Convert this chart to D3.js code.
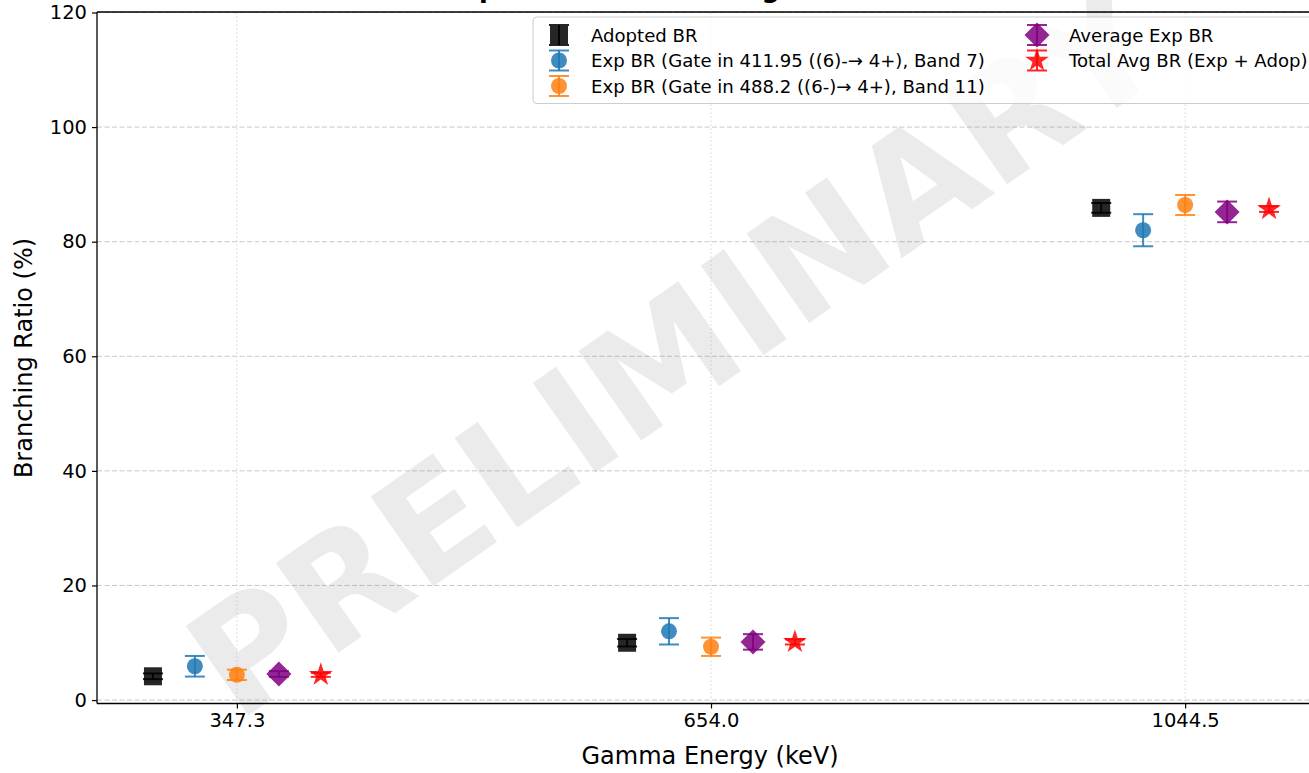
<!DOCTYPE html>
<html><head><meta charset="utf-8">
<script src="https://cdn.jsdelivr.net/npm/d3@7"></script>
<style>
html,body{margin:0;padding:0;background:#fff;}
svg{display:block;font-family:"DejaVu Sans",sans-serif;}
</style></head>
<body>
<svg id="chart" width="1309" height="773"></svg>
<script>
// ---- data ----
const categories = ["347.3", "654.0", "1044.5"];
const adopted    = [4.15, 10.0, 85.9];
const adoptedErr = [0.5, 0.65, 0.85];
const exp411     = [5.9, 12.0, 82.0];
const exp411Err  = [1.8, 2.3, 2.8];
const exp488     = [4.4, 9.3, 86.4];
const exp488Err  = [0.9, 1.6, 1.75];
const avgExp     = [4.55, 10.15, 85.2];
const avgExpErr  = [0.5, 1.35, 1.8];
const totalAvg   = [4.4, 10.15, 85.7];
const totalAvgErr= [0.35, 0.45, 0.5];
const yTicks = [0, 20, 40, 60, 80, 100, 120];
const seriesNames = [
  "Adopted BR",
  "Exp BR (Gate in 411.95 ((6)-\u2192 4+), Band 7)",
  "Exp BR (Gate in 488.2 ((6-)\u2192 4+), Band 11)",
  "Average Exp BR",
  "Total Avg BR (Exp + Adop)"
];
const titleText = "Comparison of Branching Ratios";
const xLabel = "Gamma Energy (keV)";
const yLabel = "Branching Ratio (%)";
const watermark = "PRELIMINARY";

// ---- styles ----
const series = [
  {vals: adopted,  err: adoptedErr,  color: "#000000", shape: "square",  off: -0.177},
  {vals: exp411,   err: exp411Err,   color: "#1f77b4", shape: "circle",  off: -0.0886},
  {vals: exp488,   err: exp488Err,   color: "#ff7f0e", shape: "circle",  off: 0},
  {vals: avgExp,   err: avgExpErr,   color: "#800080", shape: "diamond", off: 0.0886},
  {vals: totalAvg, err: totalAvgErr, color: "#ff0000", shape: "star",    off: 0.177}
];

const svg = d3.select("#chart");
const L = 97, R = 1325, T = 12.5, B = 703.5;
const x = d3.scaleLinear().domain([-0.295, 2.295]).range([L, R]);
const y = d3.scaleLinear().domain([-0.6, 120]).range([B, T]);

// grid
const grid = svg.append("g");
grid.selectAll("line.h").data(yTicks).join("line")
  .attr("x1",L).attr("x2",R).attr("y1",d=>y(d)).attr("y2",d=>y(d))
  .attr("stroke","#b0b0b0").attr("stroke-opacity",0.7).attr("stroke-width",1)
  .attr("stroke-dasharray","5,2.5");
grid.selectAll("line.v").data(categories.map((c,i)=>i)).join("line")
  .attr("y1",T).attr("y2",B).attr("x1",d=>x(d)).attr("x2",d=>x(d))
  .attr("stroke","#b0b0b0").attr("stroke-opacity",0.5).attr("stroke-width",1)
  .attr("stroke-dasharray","1.5,2.5");

// watermark
svg.append("text").text(watermark)
  .attr("transform","translate(705,396) rotate(-35)")
  .attr("text-anchor","middle")
  .attr("font-size",150).attr("font-weight","bold")
  .attr("fill","#808080").attr("fill-opacity",0.16);

// marker path builder
function markerPath(shape){
  if(shape==="square") return d3.symbol(d3.symbolSquare, 18*18)();
  if(shape==="circle") return d3.symbol(d3.symbolCircle, Math.PI*8*8)();
  if(shape==="star") return d3.symbol(d3.symbolStar, 175)();
  if(shape==="diamond") return "M0,-12.5L12.5,0L0,12.5L-12.5,0Z";
}

// points with error bars
const pts = svg.append("g");
series.forEach(s=>{
  const g = pts.append("g");
  s.vals.forEach((v,i)=>{
    const cx = x(i + s.off), e = s.err[i];
    const y1 = y(v - e), y2 = y(v + e);
    const gg = g.append("g");
    gg.append("line").attr("x1",cx).attr("x2",cx).attr("y1",y1).attr("y2",y2)
      .attr("stroke",s.color).attr("stroke-width",2).attr("stroke-opacity",0.85);
    [y1,y2].forEach(yy=>gg.append("line").attr("x1",cx-10).attr("x2",cx+10)
      .attr("y1",yy).attr("y2",yy).attr("stroke",s.color).attr("stroke-width",2).attr("stroke-opacity",0.85));
    gg.append("path").attr("d",markerPath(s.shape))
      .attr("transform",`translate(${cx},${y(v)})`)
      .attr("fill",s.color).attr("fill-opacity",0.85);
  });
});

// axes
const yAxis = d3.axisLeft(y).tickValues(yTicks).tickSize(5).tickPadding(5).tickFormat(d3.format("d"));
const gy = svg.append("g").attr("transform",`translate(${L},0)`).call(yAxis);
gy.select(".domain").remove();
gy.selectAll("text").attr("font-size",19.5).attr("fill","#000").attr("font-family","DejaVu Sans");
gy.selectAll("line").attr("stroke","#000").attr("stroke-width",1.2);

const xAxis = d3.axisBottom(x).tickValues(categories.map((c,i)=>i)).tickFormat(i=>categories[i])
  .tickSize(5).tickPadding(5);
const gx = svg.append("g").attr("transform",`translate(0,${B})`).call(xAxis);
gx.select(".domain").remove();
gx.selectAll("text").attr("font-size",19.5).attr("fill","#000").attr("font-family","DejaVu Sans");
gx.selectAll("line").attr("stroke","#000").attr("stroke-width",1.2);

// spines
const sp = svg.append("g").attr("stroke","#000").attr("stroke-width",1.3);
sp.append("line").attr("x1",L).attr("x2",L).attr("y1",T-0.5).attr("y2",B);
sp.append("line").attr("x1",L).attr("x2",R).attr("y1",B).attr("y2",B);
sp.append("line").attr("x1",L).attr("x2",R).attr("y1",T-0.5).attr("y2",T-0.5);

// labels
svg.append("text").text(xLabel).attr("x",710).attr("y",764)
  .attr("text-anchor","middle").attr("font-size",24);
svg.append("text").text(yLabel)
  .attr("transform",`translate(32,${(T+B)/2}) rotate(-90)`)
  .attr("text-anchor","middle").attr("font-size",24);

// title (mostly above visible area)
svg.append("text").text(titleText).attr("x",416).attr("y",-2)
  .attr("font-size",25.6).attr("font-weight","bold");

// legend
const lg = svg.append("g");
lg.append("rect").attr("x",533).attr("y",17).attr("width",800).attr("height",86.5)
  .attr("rx",4).attr("fill","#fff").attr("fill-opacity",0.8)
  .attr("stroke","#cccccc").attr("stroke-width",1);
const legPos = [[559,35],[559,60.5],[559,86],[1037,35],[1037,60.5]];
series.forEach((s,k)=>{
  const [lx,ly] = legPos[k];
  const g = lg.append("g");
  g.append("line").attr("x1",lx).attr("x2",lx).attr("y1",ly-10).attr("y2",ly+10)
    .attr("stroke",s.color).attr("stroke-width",2).attr("stroke-opacity",0.85);
  [ly-10,ly+10].forEach(yy=>g.append("line").attr("x1",lx-10).attr("x2",lx+10)
    .attr("y1",yy).attr("y2",yy).attr("stroke",s.color).attr("stroke-width",2).attr("stroke-opacity",0.85));
  g.append("path").attr("d",markerPath(s.shape)).attr("transform",`translate(${lx},${ly})`)
    .attr("fill",s.color).attr("fill-opacity",0.85);
  lg.append("text").text(seriesNames[k]).attr("x",lx+32).attr("y",ly+6.5)
    .attr("font-size",18.1).attr("fill","#000");
});
</script>
</body></html>
